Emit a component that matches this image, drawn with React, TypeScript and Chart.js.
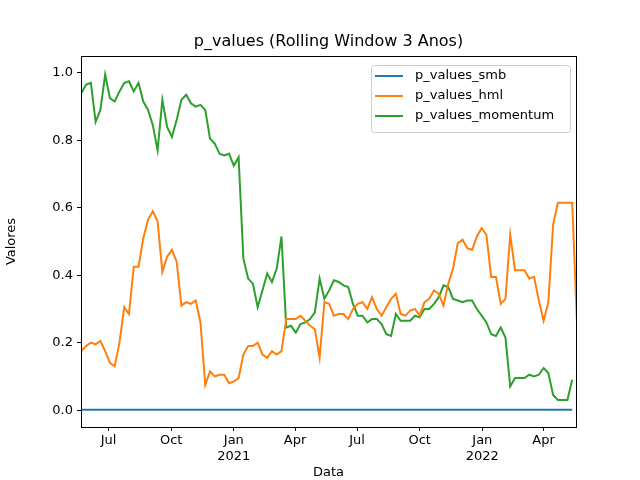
import React, { useEffect, useRef } from "react";
import { Chart, registerables } from "chart.js";
Chart.register(...registerables);

const startDate = Date.UTC(2020, 4, 22);
const weekMs = 7 * 86400000;

const momentum = [0.94,0.965,0.97,0.855,0.89,0.995,0.925,0.915,0.945,0.97,0.975,0.945,0.97,0.915,0.89,0.845,0.77,0.92,0.84,0.81,0.86,0.92,0.935,0.91,0.9,0.905,0.89,0.805,0.79,0.76,0.755,0.76,0.725,0.75,
0.45,0.39,0.375,0.305,0.355,0.405,0.38,0.42,0.515,
0.245,0.25,0.23,0.255,0.26,0.27,0.29,0.39,0.33,0.355,0.385,0.38,0.37,0.365,0.315,0.28,0.28,0.26,0.27,0.27,0.255,0.225,0.22,0.285,0.265,0.265,0.265,0.28,0.275,0.3,0.3,0.315,0.335,0.37,0.365,0.33,0.325,0.32,0.325,0.325,0.3,0.28,0.26,0.225,0.22,0.245,0.215,0.07,0.095,0.095,0.095,0.105,0.1,0.105,0.125,0.11,0.045,0.03,0.03,0.03,0.09];
const hml = [0.175,0.19,0.2,0.195,0.205,0.175,0.14,0.13,0.2,0.305,0.285,0.425,0.425,0.51,0.565,0.59,0.56,0.41,0.455,0.475,0.44,0.31,0.32,0.315,0.325,0.26,0.075,0.115,0.1,0.105,0.105,0.08,
0.085,0.095,0.165,0.19,0.19,0.2,0.165,0.155,0.175,0.165,0.175,0.27,0.27,0.27,0.28,0.265,0.25,0.24,0.155,0.32,0.315,0.28,0.285,0.285,0.27,0.3,0.315,0.32,0.3,0.335,0.3,0.28,
0.305,0.33,0.345,0.285,0.28,0.295,0.3,0.28,0.32,0.33,0.355,0.345,0.31,0.375,0.42,0.495,0.505,0.48,0.475,0.515,0.54,0.52,0.395,0.395,0.315,0.33,0.52,0.415,0.415,0.415,0.39,0.395,0.325,0.265,0.32,0.55,0.615,0.615,0.615,0.615,0.26];
const smb = momentum.map(() => 0.001);

const tickDates = [[2020,6],[2020,9],[2021,0],[2021,3],[2021,6],[2021,9],[2022,0],[2022,3]];
const monthNames = ["Jan","Feb","Mar","Apr","May","Jun","Jul","Aug","Sep","Oct","Nov","Dec"];
const yTicks = [0, 0.2, 0.4, 0.6, 0.8, 1.0];

const series = [
  { label: "p_values_smb", data: smb, color: "#1f77b4" },
  { label: "p_values_hml", data: hml, color: "#ff7f0e" },
  { label: "p_values_momentum", data: momentum, color: "#2ca02c" },
];

const FONT = "'DejaVu Sans', sans-serif";

export default function App() {
  const ref = useRef<HTMLCanvasElement>(null);
  useEffect(() => {
    document.body.style.margin = "0";
    const pts = (arr: number[]) => arr.map((v, i) => ({ x: startDate + i * weekMs, y: v }));
    const overlay = {
      id: "overlay",
      afterDraw(chart: any) {
        const { ctx, chartArea: a } = chart;
        ctx.save();
        ctx.strokeStyle = "#000"; ctx.lineWidth = 1;
        ctx.strokeRect(a.left + 0.5, a.top + 0.5, a.right - a.left, a.bottom - a.top);
        ctx.fillStyle = "#000"; ctx.font = `16px ${FONT}`; ctx.textAlign = "center"; ctx.textBaseline = "bottom";
        ctx.fillText("p_values (Rolling Window 3 Anos)", (a.left + a.right) / 2, a.top - 6);
        // legend
        const lx = 371, ly = 65, lw = 199, lh = 67;
        ctx.fillStyle = "rgba(255,255,255,0.8)"; ctx.strokeStyle = "#ccc";
        ctx.beginPath(); ctx.roundRect(lx + 0.5, ly + 0.5, lw, lh, 3); ctx.fill(); ctx.stroke();
        ctx.font = `13px ${FONT}`; ctx.textAlign = "left"; ctx.textBaseline = "middle";
        series.forEach((s, i) => {
          const y = ly + 11 + i * 20;
          ctx.strokeStyle = s.color; ctx.lineWidth = 2;
          ctx.beginPath(); ctx.moveTo(lx + 4, y); ctx.lineTo(lx + 32, y); ctx.stroke();
          ctx.fillStyle = "#000"; ctx.fillText(s.label, lx + 44, y);
        });
        ctx.restore();
      },
    };
    const chart = new Chart(ref.current!, {
      type: "line",
      data: {
        datasets: series.map((s) => ({
          label: s.label, data: pts(s.data), borderColor: s.color, backgroundColor: s.color,
          borderWidth: 2, pointRadius: 0, tension: 0,
        })),
      },
      options: {
        animation: false, responsive: false, maintainAspectRatio: false,
        layout: { padding: { top: 56, right: 64, left: 0, bottom: 0 } },
        plugins: { legend: { display: false }, title: { display: false }, tooltip: { enabled: false } },
        scales: {
          x: {
            type: "linear",
            min: startDate - 0.5 * 86400000, max: startDate + 103.8 * weekMs,
            afterFit: (s: any) => { s.height = 53; },
            afterBuildTicks: (s: any) => { s.ticks = tickDates.map(([y, m]) => ({ value: Date.UTC(y, m, 1) })); },
            ticks: {
              autoSkip: false, maxRotation: 0, color: "#000", font: { family: FONT, size: 13 }, padding: 2,
              callback: (v: any) => { const d = new Date(v); const m = d.getUTCMonth(); return m === 0 ? [monthNames[m], String(d.getUTCFullYear())] : monthNames[m]; },
            },
            grid: { drawOnChartArea: false, tickLength: 4, color: "#000" },
            border: { display: false },
            title: { display: true, text: "Data", color: "#000", font: { family: FONT, size: 13 }, padding: 0 },
          },
          y: {
            min: -0.05, max: 1.05,
            afterFit: (s: any) => { s.width = 81; },
            afterBuildTicks: (s: any) => { s.ticks = yTicks.map((v) => ({ value: v })); },
            ticks: { color: "#000", font: { family: FONT, size: 13 }, padding: 4, callback: (v: any) => Number(v).toFixed(1) },
            grid: { drawOnChartArea: false, tickLength: 4, color: "#000" },
            border: { display: false },
            title: { display: true, text: "Valores", color: "#000", font: { family: FONT, size: 13 }, padding: 4 },
          },
        },
      },
      plugins: [overlay],
    });
    return () => chart.destroy();
  }, []);
  return <canvas ref={ref} width={640} height={480} style={{ display: "block" }} />;
}
